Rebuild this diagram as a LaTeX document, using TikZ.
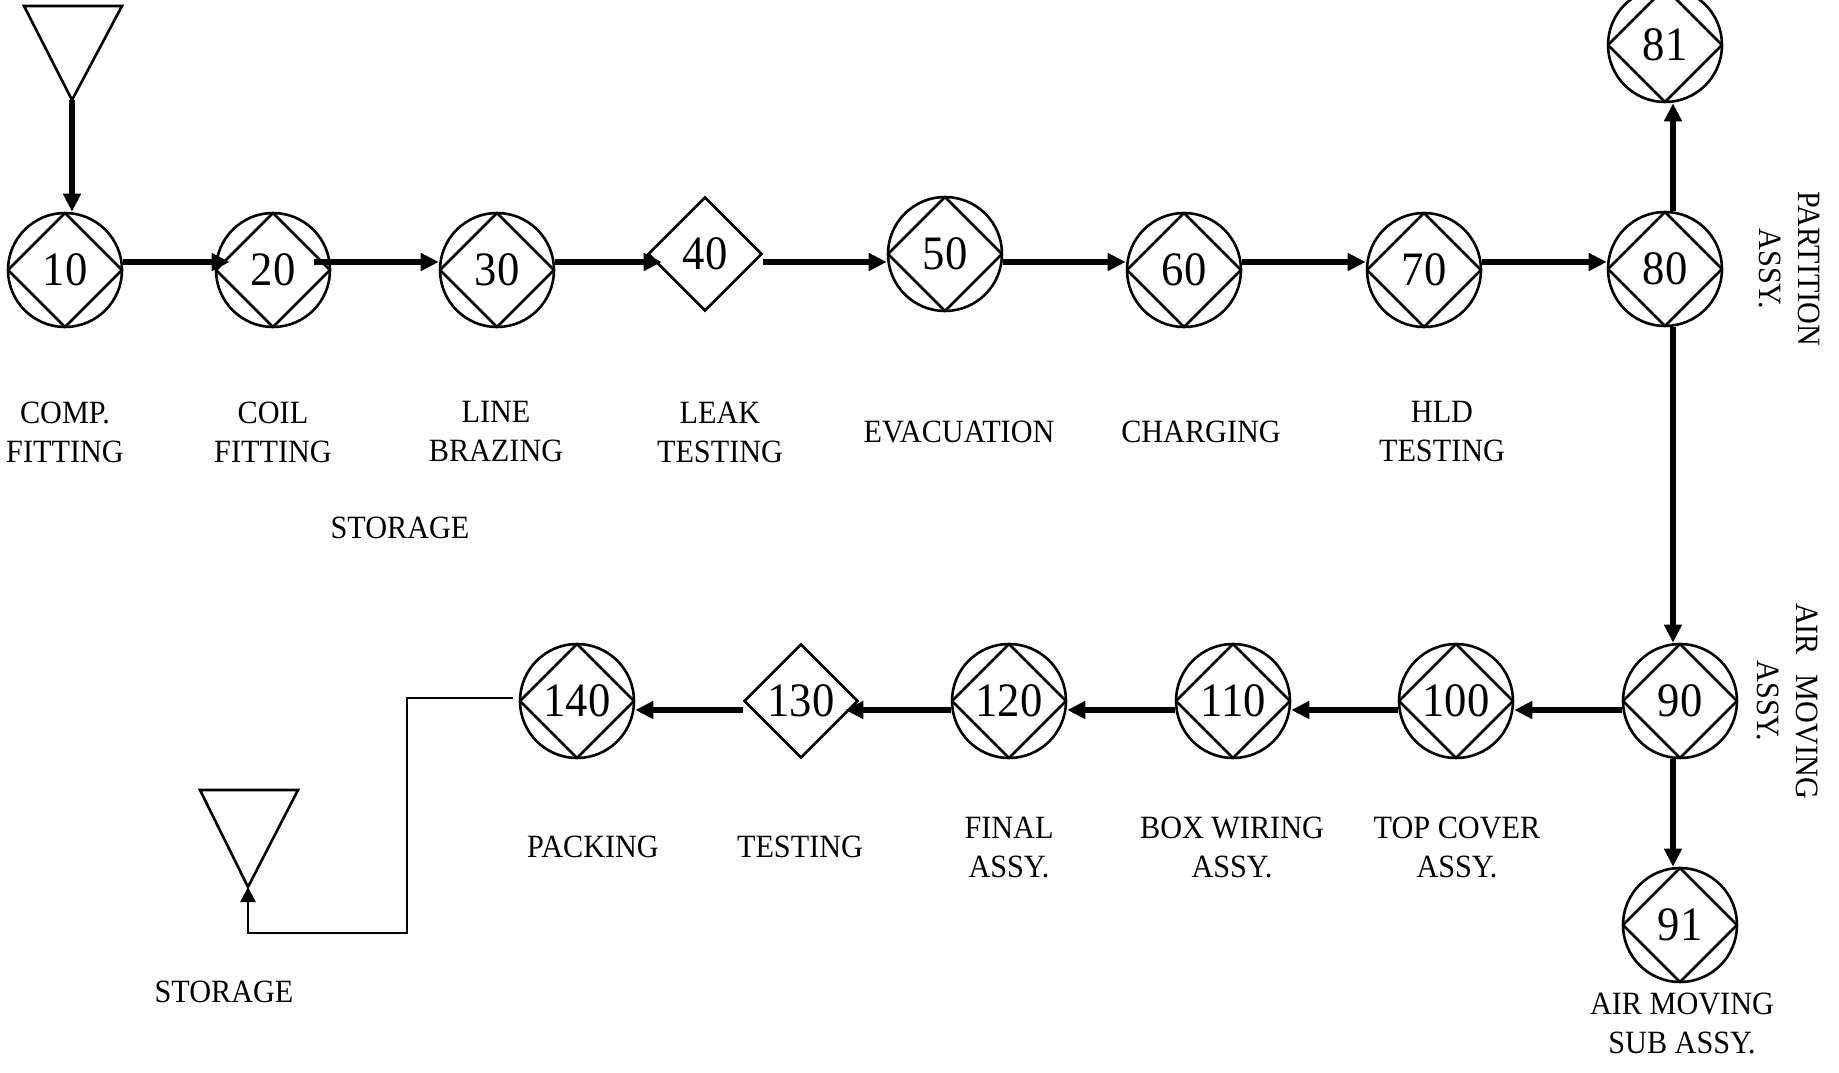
\documentclass[tikz,border=0pt]{standalone}
\usepackage{fontspec}
\setmainfont[FakeStretch=0.93]{Liberation Serif}
\usetikzlibrary{arrows.meta,shapes.geometric,calc}
\newcommand{\nfnt}{\fontsize{48}{56}\selectfont}
\newcommand{\lfnt}{\fontsize{32.5}{39}\selectfont}
\begin{document}
\begin{tikzpicture}[x=1pt,y=-1pt,
  op/.style={circle, draw, line width=2.6pt, minimum size=114pt, inner sep=0pt, font=\nfnt,
    path picture={\draw[line width=2.6pt] (path picture bounding box.north) -- (path picture bounding box.east) -- (path picture bounding box.south) -- (path picture bounding box.west) -- cycle;}},
  insp/.style={diamond, draw, line width=2.6pt, minimum width=114pt, minimum height=114pt, inner sep=0pt, font=\nfnt},
  lbl/.style={font=\lfnt, align=center, inner sep=0pt},
  arr/.style={line width=5.5pt, -{Triangle[length=18pt,width=17pt]}},
  thinarr/.style={line width=2.6pt, -{Triangle[length=15pt,width=15pt]}},
  tri/.style={draw, line width=2.6pt, line join=miter}
]
\useasboundingbox (0,0) rectangle (1839,1073);
\coordinate (r1) at (0,262);
\coordinate (r2) at (0,710);
\coordinate (c1) at (1673,0);

% storage triangles
\draw[tri] (24,6) -- (122,6) -- (72,100) -- cycle;
\coordinate (s1apex) at (72,100);
\draw[tri] (200,790) -- (298,790) -- (248,887) -- cycle;
\coordinate (s2apex) at (248,887);

% operations
\node[op] (n10) at (65,270) {10};
\node[op] (n20) at (273,270) {20};
\node[op] (n30) at (497,270) {30};
\node[insp] (n40) at (705,254) {40};
\node[op] (n50) at (945,254) {50};
\node[op] (n60) at (1184,270) {60};
\node[op] (n70) at (1424,270) {70};
\node[op] (n80) at (1665,269) {80};
\node[op] (n81) at (1665,45) {81};
\node[op] (n90) at (1680,701) {90};
\node[op] (n91) at (1680,925) {91};
\node[op] (n100) at (1456,701) {100};
\node[op] (n110) at (1233,701) {110};
\node[op] (n120) at (1009,701) {120};
\node[insp] (n130) at (801,701) {130};
\node[op] (n140) at (577,701) {140};

% connectors row 1
\draw[arr] (s1apex) -- (s1apex |- n10.north);
\draw[arr] (n10.east |- r1) -- ($(n20.west |- r1)+(15,0)$);
\draw[arr] ($(n20.east |- r1)-(17,0)$) -- (n30.west |- r1);
\draw[arr] (n30.east |- r1) -- ($(n40.west |- r1)+(15,0)$);
\draw[arr] (n40.east |- r1) -- (n50.west |- r1);
\draw[arr] (n50.east |- r1) -- (n60.west |- r1);
\draw[arr] (n60.east |- r1) -- (n70.west |- r1);
\draw[arr] (n70.east |- r1) -- (n80.west |- r1);
% vertical
\draw[arr] (n80.north -| c1) -- (n81.south -| c1);
\draw[arr] (n80.south -| c1) -- (n90.north -| c1);
\draw[arr] (n90.south -| c1) -- (n91.north -| c1);
% row 2
\draw[arr] (n90.west |- r2) -- (n100.east |- r2);
\draw[arr] (n100.west |- r2) -- (n110.east |- r2);
\draw[arr] (n110.west |- r2) -- (n120.east |- r2);
\draw[arr] (n120.west |- r2) -- ($(n130.east |- r2)-(14,0)$);
\draw[arr] (n130.west |- r2) -- (n140.east |- r2);
% to storage
\coordinate (b1) at (407,933);
\draw[thinarr] ($(n140.west)+(-6,-3)$) -| (b1) -| (s2apex);

% labels
\node[lbl] (l10) at (65,432) {COMP.\\FITTING};
\node[lbl] (l20) at (273,432) {COIL\\FITTING};
\node[lbl] (l30) at (496,432) {LINE\\BRAZING};
\node[lbl] (l40) at (720,432) {LEAK\\TESTING};
\node[lbl] (l50) at (959,432) {EVACUATION};
\node[lbl] (l60) at (1201,432) {CHARGING};
\node[lbl] (l70) at (1442,432) {HLD\\TESTING};
\node[lbl] (ls1) at (400,528) {STORAGE};
\node[lbl] (l140) at (593,847) {PACKING};
\node[lbl] (l130) at (800,847) {TESTING};
\node[lbl] (l120) at (1009,847) {FINAL\\ASSY.};
\node[lbl] (l110) at (1232,847) {BOX WIRING\\ASSY.};
\node[lbl] (l100) at (1457,847) {TOP COVER\\ASSY.};
\node[lbl] (ls2) at (224,992) {STORAGE};
\node[lbl] (l91) at (1682,1023) {AIR MOVING\\SUB ASSY.};
\node[lbl, rotate=-90] (l80) at (1790,269) {PARTITION\\ASSY.};
\node[lbl, rotate=-90] (l90) at (1788,701) {AIR\hspace{0.6em}MOVING\\ASSY.};
\end{tikzpicture}
\end{document}
